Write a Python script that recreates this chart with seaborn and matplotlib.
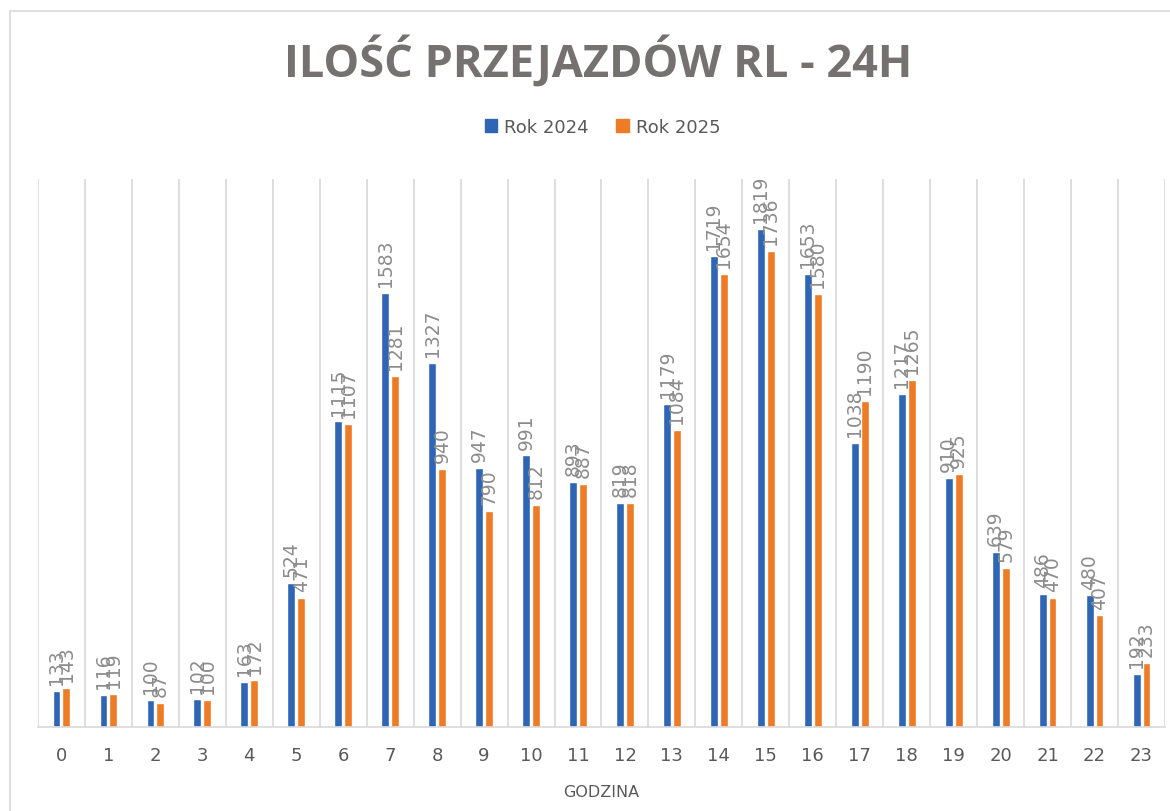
import pandas as pd
import seaborn as sns
import matplotlib.pyplot as plt
from matplotlib.patches import Rectangle

hours = [str(h) for h in range(24)]
rok_2024 = [133, 116, 100, 102, 163, 524, 1115, 1583, 1327, 947, 991, 893,
            819, 1179, 1719, 1819, 1653, 1038, 1217, 910, 639, 486, 480, 192]
rok_2025 = [143, 119, 87, 100, 172, 471, 1107, 1281, 940, 790, 812, 887,
            818, 1084, 1654, 1736, 1580, 1190, 1265, 925, 579, 470, 407, 233]
series_names = ["Rok 2024", "Rok 2025"]
colors = ["#2F65B5", "#EE7B26"]

df = pd.DataFrame({
    "godzina": hours * 2,
    "wartosc": rok_2024 + rok_2025,
    "seria": [series_names[0]] * 24 + [series_names[1]] * 24,
})

sns.set_style("white")
plt.rcParams["font.family"] = ["DejaVu Sans"]

fig = plt.figure(figsize=(11.7, 8.12), dpi=100)
# chart frame like the Excel chart area
fig.patches.append(Rectangle((10 / 1170, -0.05), 1.1, 1 - 12 / 812 + 0.05,
                             transform=fig.transFigure, fill=False,
                             edgecolor="#D9D9D9", linewidth=1.2))

ax = fig.add_axes([38 / 1170, 84 / 812, 1127 / 1170, 548 / 812])
sns.barplot(data=df, x="godzina", y="wartosc", hue="seria", order=hours,
            palette=colors, width=0.42, gap=0.2, ax=ax, legend=False,
            saturation=1)

for cont in ax.containers:
    ax.bar_label(cont, rotation=90, padding=5, color="#8C8C8C", fontsize=13.5)

ax.set_ylim(0, 2000)
ax.set_xlim(-0.5, 23.5)
ax.set_yticks([])
ax.set_xticks(range(24), hours)
ax.set_xticks([i - 0.5 for i in range(25)], minor=True)
ax.grid(True, which="minor", axis="x", color="#D9D9D9", linewidth=1.2)
ax.tick_params(axis="x", which="both", length=0, labelsize=13,
               labelcolor="#595959", pad=14)
for side in ["top", "right", "left"]:
    ax.spines[side].set_visible(False)
ax.spines["bottom"].set_color("#D9D9D9")
ax.spines["bottom"].set_linewidth(1.2)
ax.set_ylabel("")
ax.set_xlabel("GODZINA", fontsize=11.5, color="#595959", labelpad=14)

fig.text(0.511, 1 - 62 / 812, "ILOŚĆ PRZEJAZDÓW RL - 24H", ha="center",
         va="center", fontsize=32.5, fontweight="bold", color="#757171",
         family=["Open Sans", "DejaVu Sans"])

handles = [Rectangle((0, 0), 1, 1, color=c) for c in colors]
fig.legend(handles, series_names, loc="center", bbox_to_anchor=(0.515, 1 - 128 / 812),
           ncol=2, frameon=False, fontsize=13, labelcolor="#595959",
           handlelength=0.7, handleheight=0.7, handletextpad=0.4, columnspacing=1.5)

fig.savefig("out.png", dpi=100)
